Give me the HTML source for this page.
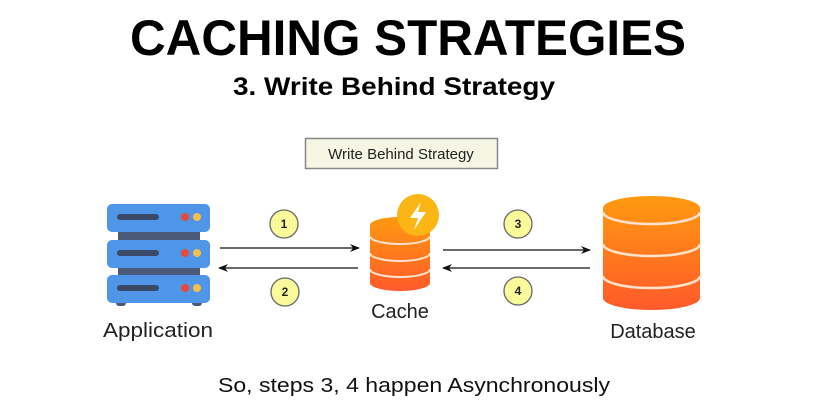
<!DOCTYPE html>
<html><head><meta charset="utf-8"><style>
html,body{margin:0;padding:0;background:#fff;}
svg{display:block;}
text{font-family:"Liberation Sans",sans-serif;}
</style></head><body>
<svg width="836" height="413" viewBox="0 0 836 413" xmlns="http://www.w3.org/2000/svg">
<defs>
<linearGradient id="og" x1="0" y1="0" x2="0" y2="1"><stop offset="0" stop-color="#ff9a10"/><stop offset="1" stop-color="#ff5a2a"/></linearGradient>
<marker id="ah" markerWidth="10" markerHeight="10" refX="9" refY="5" orient="auto" markerUnits="userSpaceOnUse"><path d="M0,1 L10,5 L0,9 L3,5 Z" fill="#111"/></marker>
</defs>
<text x="408" y="55" font-size="50" font-weight="bold" text-anchor="middle" fill="#000" textLength="556" lengthAdjust="spacingAndGlyphs">CACHING STRATEGIES</text>
<text x="394" y="95" font-size="25" font-weight="bold" text-anchor="middle" fill="#000" textLength="322" lengthAdjust="spacingAndGlyphs">3. Write Behind Strategy</text>
<rect x="305.5" y="138.5" width="192" height="30" fill="#f6f6e4" stroke="#888" stroke-width="1.5"/>
<text x="401" y="159" font-size="15" text-anchor="middle" fill="#222">Write Behind Strategy</text>
<g>
<rect x="118" y="228" width="82" height="14" fill="#4a5a78"/>
<rect x="118" y="263" width="82" height="14" fill="#4a5a78"/>
<rect x="116" y="300" width="10" height="6" rx="3" fill="#4a5a78"/>
<rect x="192" y="300" width="10" height="6" rx="3" fill="#4a5a78"/>
<rect x="107" y="204" width="103" height="28" rx="5" fill="#4f95e8"/>
<rect x="107" y="240" width="103" height="28" rx="5" fill="#4f95e8"/>
<rect x="107" y="275" width="103" height="28" rx="5" fill="#4f95e8"/>
<rect x="117" y="214" width="42" height="6" rx="3" fill="#3a4a66"/>
<rect x="117" y="250" width="42" height="6" rx="3" fill="#3a4a66"/>
<rect x="117" y="285" width="42" height="6" rx="3" fill="#3a4a66"/>
<circle cx="185" cy="217" r="4" fill="#e84a3a"/><circle cx="197" cy="217" r="4" fill="#f6c04a"/>
<circle cx="185" cy="253" r="4" fill="#e84a3a"/><circle cx="197" cy="253" r="4" fill="#f6c04a"/>
<circle cx="185" cy="288" r="4" fill="#e84a3a"/><circle cx="197" cy="288" r="4" fill="#f6c04a"/>
</g>
<text x="158" y="337" font-size="20" text-anchor="middle" fill="#222" textLength="110" lengthAdjust="spacingAndGlyphs">Application</text>
<line x1="220" y1="248" x2="359" y2="248" stroke="#111" stroke-width="1.3" marker-end="url(#ah)"/>
<line x1="358" y1="268" x2="219" y2="268" stroke="#111" stroke-width="1.3" marker-end="url(#ah)"/>
<line x1="443" y1="250" x2="590" y2="250" stroke="#111" stroke-width="1.3" marker-end="url(#ah)"/>
<line x1="590" y1="268" x2="443" y2="268" stroke="#111" stroke-width="1.3" marker-end="url(#ah)"/>
<g font-size="12" font-weight="bold" text-anchor="middle" fill="#222">
<circle cx="284" cy="224" r="14" fill="#fafa9a" stroke="#666" stroke-width="1.3"/><text x="284" y="228">1</text>
<circle cx="285" cy="292" r="14" fill="#fafa9a" stroke="#666" stroke-width="1.3"/><text x="285" y="296">2</text>
<circle cx="518" cy="224" r="14" fill="#fafa9a" stroke="#666" stroke-width="1.3"/><text x="518" y="228">3</text>
<circle cx="518" cy="291" r="14" fill="#fafa9a" stroke="#666" stroke-width="1.3"/><text x="518" y="295">4</text>
</g>
<path d="M370,225 A30,8 0 0 1 430,225 L430,283 A30,8 0 0 1 370,283 Z" fill="url(#og)"/>
<path d="M370,236 A30,8 0 0 0 430,236 M370,253 A30,8 0 0 0 430,253 M370,269 A30,8 0 0 0 430,269" fill="none" stroke="#fde2cc" stroke-width="2"/>
<circle cx="418" cy="215" r="21" fill="#fbb514"/>
<path d="M421,202 L410,218 L418,218 L414,230 L426,212 L418,212 Z" fill="#fff"/>
<text x="400" y="318" font-size="20" text-anchor="middle" fill="#222">Cache</text>
<path d="M603,208 A48.5,12 0 0 1 700,208 L700,298 A48.5,12 0 0 1 603,298 Z" fill="url(#og)"/>
<path d="M603,212 A48.5,12 0 0 0 700,212 M603,244 A48.5,12 0 0 0 700,244 M603,276 A48.5,12 0 0 0 700,276" fill="none" stroke="#fde2cc" stroke-width="2.5"/>
<text x="653" y="338" font-size="20" text-anchor="middle" fill="#222">Database</text>
<text x="414" y="392" font-size="20" text-anchor="middle" fill="#111" textLength="392" lengthAdjust="spacingAndGlyphs">So, steps 3, 4 happen Asynchronously</text>
</svg>
</body></html>
